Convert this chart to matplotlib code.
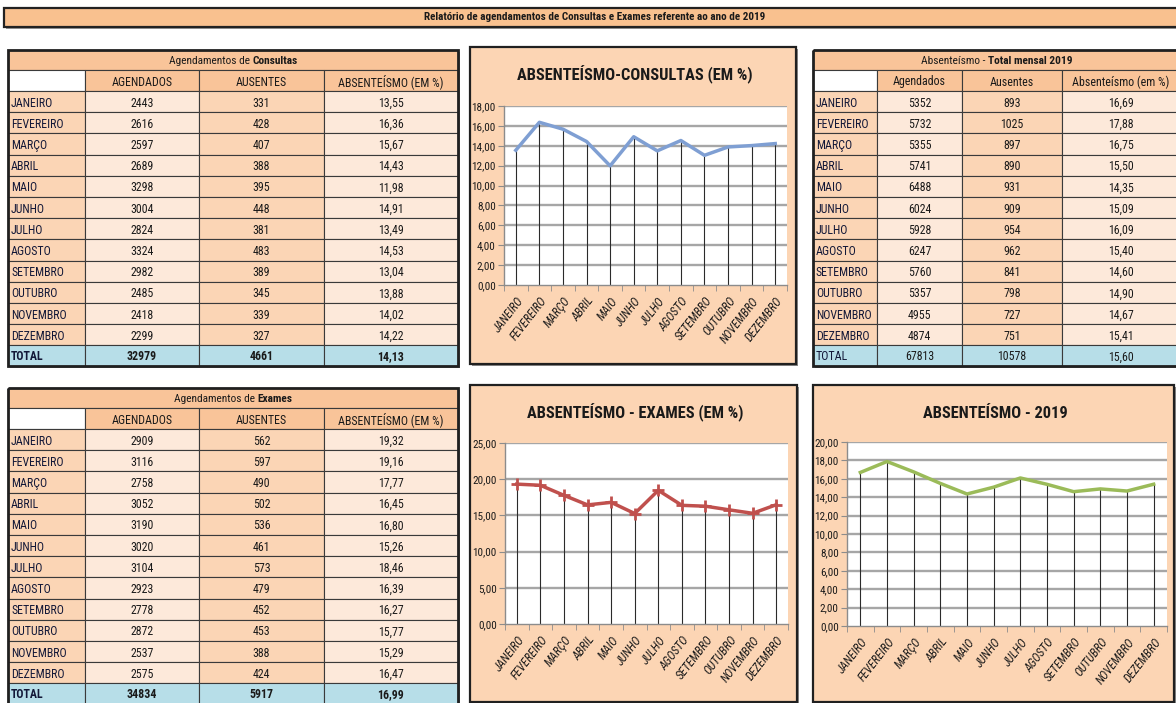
import matplotlib
matplotlib.use('Agg')
import matplotlib.pyplot as plt
from matplotlib.patches import Rectangle
from matplotlib import font_manager as fm

_names = {f.name for f in fm.fontManager.ttflist}
_pref = ['Roboto Condensed', 'PT Sans Narrow', 'Archivo Narrow', 'Open Sans Condensed',
         'Barlow Semi Condensed', 'Carlito', 'Lato']
FONT = next((n for n in _pref if n in _names), 'DejaVu Sans')
plt.rcParams['font.family'] = [FONT, 'DejaVu Sans']

# ---------------- data ----------------
months = ['JANEIRO', 'FEVEREIRO', 'MARÇO', 'ABRIL', 'MAIO', 'JUNHO', 'JULHO',
          'AGOSTO', 'SETEMBRO', 'OUTUBRO', 'NOVEMBRO', 'DEZEMBRO']

cons_agend = [2443, 2616, 2597, 2689, 3298, 3004, 2824, 3324, 2982, 2485, 2418, 2299]
cons_aus = [331, 428, 407, 388, 395, 448, 381, 483, 389, 345, 339, 327]
cons_abs = [13.55, 16.36, 15.67, 14.43, 11.98, 14.91, 13.49, 14.53, 13.04, 13.88, 14.02, 14.22]
cons_total = [32979, 4661, 14.13]

exam_agend = [2909, 3116, 2758, 3052, 3190, 3020, 3104, 2923, 2778, 2872, 2537, 2575]
exam_aus = [562, 597, 490, 502, 536, 461, 573, 479, 452, 453, 388, 424]
exam_abs = [19.32, 19.16, 17.77, 16.45, 16.80, 15.26, 18.46, 16.39, 16.27, 15.77, 15.29, 16.47]
exam_total = [34834, 5917, 16.99]

tot_agend = [5352, 5732, 5355, 5741, 6488, 6024, 5928, 6247, 5760, 5357, 4955, 4874]
tot_aus = [893, 1025, 897, 890, 931, 909, 954, 962, 841, 798, 727, 751]
tot_abs = [16.69, 17.88, 16.75, 15.50, 14.35, 15.09, 16.09, 15.40, 14.60, 14.90, 14.67, 15.41]
tot_total = [67813, 10578, 15.60]

headers_upper = ['AGENDADOS', 'AUSENTES', 'ABSENTEÍSMO (EM %)']
headers_lower = ['Agendados', 'Ausentes', 'Absenteísmo (em %)']

main_title = 'Relatório de agendamentos de Consultas e Exames referente ao ano de 2019'

# ---------------- figure ----------------
W, H = 1176, 703
fig = plt.figure(figsize=(W / 100, H / 100), dpi=100)
fig.patch.set_facecolor('white')
bg = fig.add_axes([0, 0, 1, 1])
bg.set_xlim(0, W)
bg.set_ylim(H, 0)
bg.axis('off')
renderer = fig.canvas.get_renderer()

TXT = '#1a1a1a'
LAB = '#131838'
PEACH_T = '#F9C499'
PEACH = '#FBD5B5'
LIGHT = '#FDE9DA'
BLUE = '#B7DEE8'
FS = 8.6


def fmt(v):
    if isinstance(v, float):
        return f'{v:.2f}'.replace('.', ',')
    return str(v)


def mixed_center(xc, y, parts, fs, color=TXT):
    texts = []
    for s, w in parts:
        t = bg.text(0, y, s, fontsize=fs, fontweight=w, va='center', ha='left', color=color)
        texts.append(t)
    widths = [t.get_window_extent(renderer).width for t in texts]
    x = xc - sum(widths) / 2
    for t, w in zip(texts, widths):
        t.set_x(x)
        x += w


def rect(x0, y0, x1, y1, fc, ec='#3a3a3a', lw=0.8, z=1):
    bg.add_patch(Rectangle((x0, y0), x1 - x0, y1 - y0, fc=fc, ec=ec, lw=lw, zorder=z))


# title bar
bg.add_patch(Rectangle((6, 10), W, 19, fc='#9a9a9a', ec='none', zorder=0))
rect(4, 8, W + 5, 27, '#F9C18F', ec='#222222', lw=1.6)
bg.text(595, 17.5, main_title, fontsize=8, fontweight='bold', ha='center', va='center', color=TXT)


def draw_table(xe, y0, title_parts, headers, labels, cols, total, rowh, bold_total):
    x0, x1 = xe[0], xe[-1]
    bg.add_patch(Rectangle((x0 + 2, y0 + 2), x1 - x0, 316, fc='#9a9a9a', ec='none', zorder=0))
    y = y0
    rect(x0, y, x1, y + 20, PEACH_T)
    mixed_center((x0 + x1) / 2, y + 11, title_parts, 8.2)
    y += 20
    rect(xe[0], y, xe[1], y + 21, 'white')
    for j in range(3):
        rect(xe[j + 1], y, xe[j + 2], y + 21, PEACH_T)
        bg.text((xe[j + 1] + xe[j + 2]) / 2, y + 12, headers[j], fontsize=FS,
                ha='center', va='center', color=TXT)
    y += 21
    col_fc = [PEACH, LIGHT, PEACH, LIGHT]
    for i, lab in enumerate(labels):
        for j in range(4):
            rect(xe[j], y, xe[j + 1], y + rowh, col_fc[j])
        bg.text(x0 + 3, y + rowh / 2 + 1.5, lab, fontsize=FS, ha='left', va='center', color=LAB)
        for j in range(3):
            bg.text((xe[j + 1] + xe[j + 2]) / 2, y + rowh / 2 + 1.5, fmt(cols[j][i]), fontsize=FS,
                    ha='center', va='center', color=TXT)
        y += rowh
    wt = 'bold' if bold_total else 'normal'
    for j in range(4):
        rect(xe[j], y, xe[j + 1], y + 21, BLUE)
    bg.text(x0 + 3, y + 11.5, 'TOTAL', fontsize=FS, fontweight=wt, ha='left', va='center', color=LAB)
    for j in range(3):
        bg.text((xe[j + 1] + xe[j + 2]) / 2, y + 11.5, fmt(total[j]), fontsize=FS, fontweight=wt,
                ha='center', va='center', color=TXT)
    y += 21
    bg.add_patch(Rectangle((x0, y0), x1 - x0, y - y0, fc='none', ec='#202020', lw=2, zorder=3))


draw_table([8, 85, 199, 324, 458], 50,
           [('Agendamentos de ', 'normal'), ('Consultas', 'bold')],
           headers_upper, months, [cons_agend, cons_aus, cons_abs], cons_total, 21.2, True)
draw_table([8, 85, 199, 324, 458], 388,
           [('Agendamentos de ', 'normal'), ('Exames', 'bold')],
           headers_upper, months, [exam_agend, exam_aus, exam_abs], exam_total, 21.2, True)
draw_table([813, 877, 962, 1062, 1180], 50,
           [('Absenteísmo - ', 'normal'), ('Total mensal 2019', 'bold')],
           headers_lower, months, [tot_agend, tot_aus, tot_abs], tot_total, 21.2, False)


# ---------------- charts ----------------
def chart(box, area, title, values, ymax, ystep, color, marker=None):
    bx0, by0, bx1, by1 = box
    bg.add_patch(Rectangle((bx0 + 2, by0 + 2), bx1 - bx0, by1 - by0, fc='#8a8a8a', ec='none', zorder=0))
    rect(bx0, by0, bx1, by1, '#FCD5B4', ec='#202020', lw=1.6)
    l, t, r, b = area
    bg.text((bx0 + bx1) / 2 + 2, by0 + 28, title, fontsize=11.8, fontweight='bold',
            ha='center', va='center', color=TXT)
    ax = fig.add_axes([l / W, 1 - b / H, (r - l) / W, (b - t) / H])
    ax.set_facecolor('white')
    x = list(range(len(values)))
    yt = [k * ystep for k in range(int(round(ymax / ystep)) + 1)]
    for v in yt[1:]:
        ax.axhline(v, color='#A6A6A6', lw=1.7, zorder=1)
    ax.vlines(x, 0, values, color='#2b2b2b', lw=0.8, zorder=2)
    if marker:
        ax.plot(x, values, color=color, lw=2.5, marker=marker, ms=8, mew=2, zorder=3)
    else:
        ax.plot(x, values, color=color, lw=2.5, zorder=3)
    ax.set_xlim(-0.5, len(values) - 0.5)
    ax.set_ylim(0, ymax)
    ax.set_yticks(yt)
    ax.set_yticklabels([fmt(float(v)) for v in yt], fontsize=8, color=TXT)
    ax.set_xticks(x)
    ax.set_xticklabels(months, rotation=52, ha='right', va='top', rotation_mode='anchor',
                       fontsize=8.6, style='italic', color=TXT)
    ax.set_xticks([k - 0.5 for k in range(len(values) + 1)], minor=True)
    ax.tick_params(axis='x', which='major', length=0, pad=7)
    ax.tick_params(axis='x', which='minor', length=4, color='#8c8c8c')
    ax.tick_params(axis='y', length=4, color='#8c8c8c', pad=2)
    for s in ['top', 'right']:
        ax.spines[s].set_visible(False)
    for s in ['left', 'bottom']:
        ax.spines[s].set_color('#8c8c8c')
        ax.spines[s].set_linewidth(1.0)
    return ax


chart((470, 47, 796, 364), (504, 106, 787, 285), 'ABSENTEÍSMO-CONSULTAS (EM %)',
      cons_abs, 18, 2, '#7F9FD3')
chart((470, 385, 797, 702), (505, 443, 788, 624), 'ABSENTEÍSMO - EXAMES (EM %)',
      exam_abs, 25, 5, '#C0504D', marker='+')
chart((813, 385, 1174, 702), (847, 442, 1167, 626), 'ABSENTEÍSMO - 2019',
      tot_abs, 20, 2, '#9BBB59')

fig.savefig('out.png', dpi=100)
